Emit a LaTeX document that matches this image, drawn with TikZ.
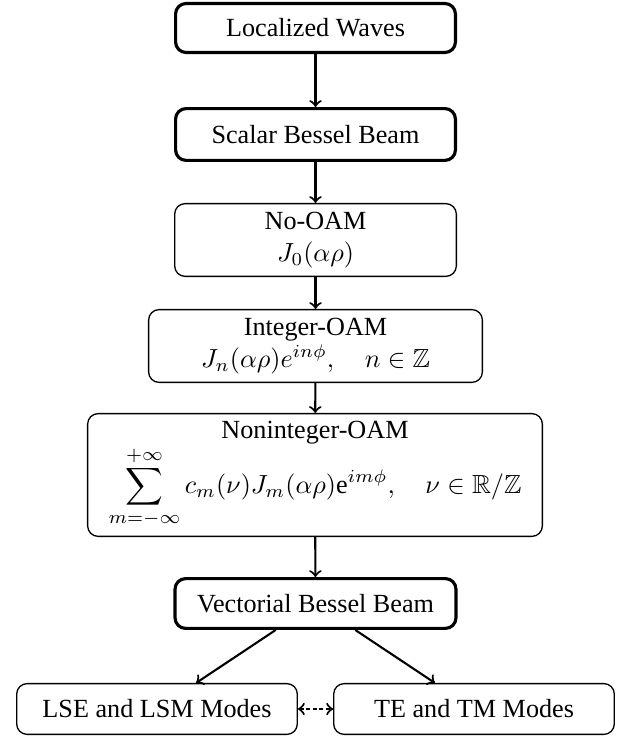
\documentclass[tikz,border=0pt]{standalone}
\usepackage{amsmath,amssymb}
\usepackage{fontspec}
\setmainfont{Liberation Serif}
\begin{document}
\begin{tikzpicture}[x=0.382pt,y=-0.382pt,
  mainbox/.style={draw, very thick, rounded corners=4pt, align=center, inner sep=0pt},
  subbox/.style={draw, line width=0.5pt, rounded corners=4pt, align=center, inner sep=0pt},
  arr/.style={->, thick},
  dasharr/.style={<->, thick, dash pattern=on 1.5pt off 1pt}]
\useasboundingbox (0,0) rectangle (620,736);
\node[mainbox, minimum width=106.9pt, minimum height=18.7pt] (lw) at (315.5,28) {Localized Waves};
\node[mainbox, minimum width=106.9pt, minimum height=19.8pt] (sbb) at (315.5,134.5) {Scalar Bessel Beam};
\node[subbox, minimum width=107.6pt, minimum height=27.8pt] (no) at (315.5,240) {No-OAM\\ $J_0(\alpha\rho)$};
\node[subbox, minimum width=127.5pt, minimum height=27.8pt] (int) at (315.5,346) {Integer-OAM\\ $J_n(\alpha\rho)e^{in\phi},\quad n\in\mathbb{Z}$};
\node[subbox, minimum width=173.7pt, minimum height=46.9pt] (nonint) at (315,475) {Noninteger-OAM\\ $\displaystyle\sum_{m=-\infty}^{+\infty} c_m(\nu)J_m(\alpha\rho)\mathrm{e}^{im\phi},\quad \nu\in\mathbb{R}/\mathbb{Z}$};
\node[mainbox, minimum width=107.3pt, minimum height=19.0pt] (vbb) at (315.5,603.5) {Vectorial Bessel Beam};
\node[subbox, minimum width=107.2pt, minimum height=19.4pt] (lse) at (157,709) {LSE and LSM Modes};
\node[subbox, minimum width=107.2pt, minimum height=19.4pt] (te) at (474,709) {TE and TM Modes};
\draw[arr] (lw) -- (sbb);
\draw[arr] (sbb) -- (no);
\draw[arr] (no) -- (int);
\draw[arr] (int) -- (nonint);
\draw[arr] (nonint) -- (vbb);
\draw[arr] (vbb) -- (lse);
\draw[arr] (vbb) -- (te);
\draw[dasharr] (lse) -- (te);
\end{tikzpicture}
\end{document}
